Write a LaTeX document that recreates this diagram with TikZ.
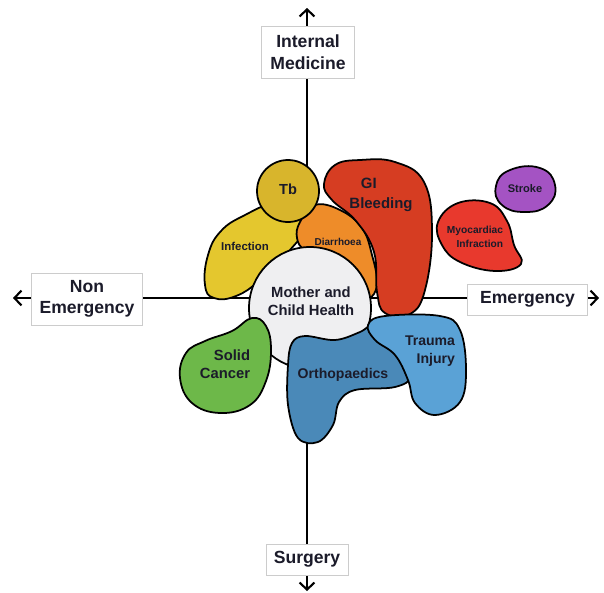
\documentclass[tikz,border=0pt]{standalone}
\usepackage{fontspec}
\setmainfont{Liberation Sans}
\usetikzlibrary{arrows.meta}

% fill colours of the groups
\definecolor{infectcol}{HTML}{E4C72E}
\definecolor{tbcol}{HTML}{D8B52C}
\definecolor{diarcol}{HTML}{EE8C29}
\definecolor{gicol}{HTML}{D63D22}
\definecolor{heartcol}{HTML}{E8392D}
\definecolor{strokecol}{HTML}{A453C3}
\definecolor{mothercol}{HTML}{EFEFF1}
\definecolor{cancercol}{HTML}{6DB849}
\definecolor{orthocol}{HTML}{4A89B8}
\definecolor{traumacol}{HTML}{5AA2D6}
\definecolor{textcol}{HTML}{1B1B2A}

\begin{document}
\begin{tikzpicture}[x=0.02cm, y=-0.02cm,
    axis/.style={line width=1.1pt, -{Straight Barb[length=4pt,width=8.5pt,line width=1.2pt]}},
    axislabel/.style={draw=gray!40, fill=white, text=textcol, align=center, inner sep=0pt,
      font=\bfseries\fontsize{10}{12.3}\selectfont},
    blob/.style={draw=black, line width=1pt, line join=round},
    blobtext/.style={text=textcol, inner sep=0pt}
  ]
    \useasboundingbox (0,0) rectangle (604,592);

    % Define axes
    \coordinate (origin) at (307,298);
    \coordinate (north) at (307,8);
    \coordinate (south) at (307,591);
    \coordinate (west) at (13,298);
    \coordinate (east) at (599,298);

    % Draw axes
    \foreach \tip in {north,south,west,east}
        \draw[axis] (origin) -- (\tip);

    \node[axislabel, minimum width=52.7pt, minimum height=29.5pt] (medicine) at (308,52) {Internal\\Medicine};
    \node[axislabel, minimum width=46.5pt, minimum height=17.6pt] (surgery) at (307,559.5) {Surgery};
    \node[axislabel, minimum width=63.5pt, minimum height=29.5pt] (nonemerg) at (87,299) {Non\\Emergency};
    \node[axislabel, minimum width=68.6pt, minimum height=17.6pt] (emerg) at (527.5,299.5) {Emergency};

    % Draw groups, back to front
    \draw[blob, fill=infectcol] plot[smooth cycle, tension=0.75] coordinates
        {(205,285) (208,255) (221,231) (245,215) (275,203) (305,205) (312,220) (290,250) (260,280) (236,296) (214,298)};
    \draw[blob, fill=diarcol] plot[smooth cycle, tension=0.7] coordinates
        {(300,222) (315,205) (340,210) (362,228) (372,255) (377,284) (369,298) (360,286) (346,266) (326,256) (305,250) (297,238)};
    \draw[blob, fill=tbcol] (288,191) circle[radius=31];
    \draw[blob, fill=mothercol] (310,308) circle[radius=61];
    \draw[blob, fill=gicol] plot[smooth cycle, tension=0.7] coordinates
        {(324,184) (335,165) (360,160) (395,162) (424,182) (432,232) (425,290) (410,314) (385,313) (377,292) (374,252) (356,221) (332,200)};
    \draw[blob, fill=cancercol] plot[smooth cycle, tension=0.7] coordinates
        {(252,318) (266,326) (271,350) (266,381) (250,405) (220,413) (192,403) (180,378) (186,353) (205,341) (232,331)};
    \draw[blob, fill=orthocol] plot[smooth cycle, tension=0.6] coordinates
        {(292,343) (305,336) (335,340) (360,332) (380,322) (405,345) (412,375) (395,387) (355,390) (339,402) (333,425) (318,442) (298,438) (288,405) (288,365)};
    \draw[blob, fill=traumacol] plot[smooth cycle, tension=0.65] coordinates
        {(368,325) (385,316) (440,316) (460,330) (466,370) (460,402) (435,415) (415,403) (408,380) (395,355) (375,340)};
    \draw[blob, fill=heartcol] plot[smooth cycle, tension=0.7] coordinates
        {(458,203) (490,203) (507,221) (514,245) (521,264) (495,271) (460,262) (442,245) (438,222)};
    \draw[blob, fill=strokecol] plot[smooth cycle, tension=0.8] coordinates
        {(510,170) (540,168) (555,185) (548,205) (525,212) (502,205) (496,186)};

    % Group names
    \node[blobtext, font=\bfseries\fontsize{8.3}{10}\selectfont] (tb) at (288,189) {Tb};
    \node[blobtext, font=\bfseries\fontsize{6.5}{8}\selectfont] (infection) at (245,246) {Infection};
    \node[blobtext, font=\bfseries\fontsize{5.7}{7}\selectfont] (diarrhoea) at (338,242) {Diarrhoea};
    \node[blobtext, align=left, font=\bfseries\fontsize{8.5}{11.3}\selectfont] (bleeding) at (381,195) {\hspace*{6.5pt}GI\\Bleeding};
    \node[blobtext, align=center, font=\bfseries\fontsize{8.4}{10.4}\selectfont] (mother) at (311,301) {Mother and\\Child Health};
    \node[blobtext, align=right, font=\bfseries\fontsize{8.4}{10.3}\selectfont] (cancer) at (225,364) {Solid\\Cancer};
    \node[blobtext, font=\bfseries\fontsize{8}{10}\selectfont] (ortho) at (343,375) {Orthopaedics};
    \node[blobtext, align=right, font=\bfseries\fontsize{8}{10.4}\selectfont] (trauma) at (430,351) {Trauma\\Injury};
    \node[blobtext, align=right, font=\bfseries\fontsize{5.8}{7.6}\selectfont] (heart) at (475,237) {Myocardiac\\Infraction};
    \node[blobtext, font=\bfseries\fontsize{6.3}{8}\selectfont] (stroke) at (525,189) {Stroke};
\end{tikzpicture}
\end{document}
